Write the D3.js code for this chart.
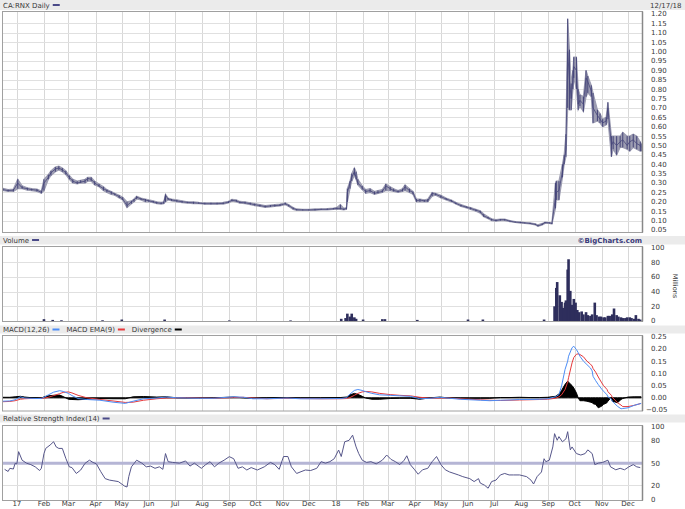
<!DOCTYPE html>
<html><head><meta charset="utf-8">
<script src="https://cdn.jsdelivr.net/npm/d3@7"></script>
<style>
body{margin:0;background:#fff}
svg{display:block}
text{font-family:"DejaVu Sans",Verdana,sans-serif;font-size:7px;fill:#383838}
</style>
</head><body>
<svg id="c" width="685" height="509"></svg>
<script>
// ---------- DATA (day = calendar days since 2016-12-15) ----------
const START = "2016-12-15", END = "2018-12-17";
const symbolLabel = "CA:RNX Daily";
const asOfLabel = "12/17/18";
const priceTicks = [0.05,0.10,0.15,0.20,0.25,0.30,0.35,0.40,0.45,0.50,0.55,0.60,0.65,0.70,0.75,0.80,0.85,0.90,0.95,1.00,1.05,1.10,1.15,1.20];
const volumeTicks = [0,20,40,60,80,100];
const macdTicks = [-0.05,0,0.05,0.10,0.15,0.20,0.25];
const rsiTicks = [0,20,50,80,100];

// [day, close, low, high]
const priceData = [
[1,.265,.26,.272],[7,.26,.255,.265],[13,.262,.255,.268],[18,.30,.27,.32],[23,.275,.27,.285],
[29,.27,.262,.275],[34,.265,.26,.27],[40,.262,.255,.268],[45,.25,.245,.258],[48,.30,.26,.32],
[53,.33,.32,.345],[56,.355,.34,.365],[61,.375,.36,.385],[65,.38,.37,.39],[69,.37,.36,.38],
[73,.355,.345,.365],[77,.33,.32,.34],[81,.31,.30,.32],[86,.30,.295,.31],[90,.305,.30,.315],
[95,.31,.30,.32],[98,.325,.31,.33],[102,.32,.31,.33],[106,.30,.29,.31],[111,.285,.28,.295],
[116,.27,.26,.28],[120,.26,.25,.265],[125,.25,.24,.255],[129,.24,.235,.245],[134,.228,.22,.235],
[138,.215,.21,.225],[143,.18,.17,.20],[148,.20,.19,.205],[151,.21,.20,.215],[154,.225,.215,.23],
[159,.215,.21,.22],[164,.21,.20,.215],[168,.205,.20,.21],[173,.20,.195,.205],[177,.195,.19,.20],
[182,.192,.188,.197],[185,.195,.19,.20],[187,.235,.20,.24],[190,.215,.21,.22],[194,.21,.205,.215],
[200,.205,.20,.21],[206,.20,.195,.205],[212,.197,.193,.20],[219,.195,.19,.20],[225,.193,.19,.197],
[232,.19,.187,.195],[239,.19,.187,.195],[246,.19,.187,.195],[253,.192,.188,.197],[259,.198,.194,.203],
[263,.208,.203,.213],[268,.205,.20,.21],[272,.197,.193,.202],[278,.195,.19,.20],[284,.19,.185,.195],
[289,.185,.18,.19],[295,.18,.175,.185],[301,.175,.17,.18],[307,.178,.173,.183],[312,.18,.175,.185],
[318,.182,.178,.188],[324,.19,.185,.195],[328,.18,.175,.185],[333,.165,.16,.17],[337,.158,.155,.162],
[344,.157,.154,.16],[351,.157,.154,.16],[358,.158,.155,.162],[365,.16,.157,.163],[372,.16,.157,.164],
[379,.163,.16,.167],[383,.165,.16,.17],[387,.165,.16,.185],[391,.16,.157,.165],[394,.165,.16,.17],
[395,.25,.20,.27],[398,.30,.27,.31],[400,.33,.31,.35],[403,.36,.34,.38],[405,.33,.32,.36],
[407,.30,.29,.32],[412,.275,.265,.285],[416,.255,.245,.265],[421,.26,.25,.27],[426,.245,.24,.255],
[430,.25,.245,.26],[435,.255,.25,.265],[439,.285,.26,.295],[444,.27,.26,.28],[448,.26,.255,.27],
[453,.255,.25,.26],[458,.26,.255,.27],[461,.28,.26,.29],[466,.26,.25,.27],[470,.25,.24,.255],
[474,.205,.20,.215],[478,.21,.20,.215],[483,.205,.20,.21],[487,.205,.20,.215],[492,.245,.23,.25],
[496,.24,.235,.245],[502,.228,.22,.235],[508,.215,.21,.22],[514,.205,.20,.21],[519,.192,.188,.197],
[525,.18,.175,.185],[531,.172,.168,.176],[536,.165,.16,.17],[542,.155,.15,.16],[547,.148,.14,.152],
[551,.125,.12,.135],[556,.115,.11,.12],[560,.105,.10,.11],[565,.10,.097,.105],[570,.105,.10,.108],
[575,.105,.10,.108],[581,.097,.094,.10],[587,.092,.09,.095],[593,.09,.087,.093],[598,.088,.085,.09],
[604,.085,.082,.088],[610,.08,.077,.083],[613,.072,.07,.077],[618,.08,.077,.085],[621,.09,.085,.092],
[626,.088,.085,.09],[629,.085,.082,.088],[633,.22,.165,.30],[634,.25,.21,.31],[637,.26,.21,.31],
[641,.36,.33,.40],[643,.42,.40,.45],[645,.48,.44,.56],[647,1.00,.70,1.175],[649,.85,.69,1.01],
[651,.75,.69,.83],[653,.85,.80,.90],[654,.92,.86,.97],[657,.90,.80,.97],[659,.72,.69,.80],
[661,.74,.71,.77],[665,.72,.68,.76],[668,.86,.76,.90],[670,.84,.78,.87],[674,.79,.76,.82],
[676,.70,.62,.78],[681,.66,.63,.69],[684,.64,.62,.67],[687,.62,.60,.64],[691,.63,.61,.65],
[693,.70,.64,.73],[697,.50,.44,.55],[699,.52,.48,.55],[703,.50,.45,.55],[707,.52,.49,.55],
[710,.53,.49,.57],[715,.50,.48,.55],[718,.52,.47,.55],[722,.53,.49,.56],[726,.51,.48,.55],
[730,.50,.47,.52],[731,.49,.47,.51]
];

// [day, volume in millions]
const volumeData = [
[48,2.5],[58,1.5],[68,1],[115,1],[137,2],[186,2],[260,0.8],[330,0.8],
[388,3],[393,4],[395,10],[398,6],[400,10],[403,5],[405,3],[413,2],[435,2.5],[438,2.5],[475,1.5],
[533,2],[550,2],[620,2],
[632,20],[634,45],[635,53],[638,35],[640,26],[642,18],[644,25],[645,28],[647,70],[648,84],
[650,41],[652,22],[654,30],[656,25],[658,15],[660,12],[663,13],[665,9],[668,12],[670,8],
[673,7],[675,9],[678,25],[680,8],[683,6],[685,6],[688,5],[690,5],[693,7],[695,7],[698,9],
[700,17],[703,8],[705,6],[708,5],[710,4],[713,4],[715,5],[718,5],[720,4],[723,3],[725,8],
[728,3],[730,2]
];

// [day, macd, signal, divergence]
const macdData = [
[1,-.014,-.016,.002],[9,-.013,-.015,.002],[15,-.008,-.012,.004],[21,.004,-.006,.006],
[26,-.001,-.004,.003],[32,-.002,-.003,.001],[40,-.003,-.003,0],[45,-.003,-.002,-.001],
[49,.004,-.001,.005],[53,.012,.002,.008],[59,.023,.009,.010],[66,.029,.017,.011],
[70,.026,.022,.005],[76,.018,.024,-.006],[80,.009,.020,-.007],[87,-.003,.010,-.008],
[97,-.007,0,-.006],[112,-.010,-.007,-.003],[127,-.018,-.013,-.004],[141,-.023,-.019,-.004],
[150,-.014,-.018,.004],[162,-.004,-.010,.005],[177,-.001,-.004,.003],[188,.003,-.001,.004],
[200,0,0,0],[211,-.001,0,-.001],[226,-.002,-.001,-.001],[242,-.002,-.002,0],
[265,.004,.001,.003],[276,.002,.002,0],[287,-.004,-.001,-.003],[303,-.004,-.004,0],
[326,-.001,-.002,.001],[341,-.004,-.003,-.001],[364,-.004,-.004,0],[387,-.003,-.004,.001],
[394,0,-.003,.003],[398,.015,.001,.012],[403,.030,.010,.018],[407,.034,.018,.014],
[412,.030,.024,.006],[416,.025,.026,-.001],[423,.018,.024,-.006],[432,.012,.018,-.006],
[444,.010,.013,-.003],[455,.008,.010,-.002],[467,.006,.008,-.002],[478,-.004,.002,-.006],
[490,-.002,-.002,0],[501,.002,-.001,.003],[512,-.002,-.001,-.001],[524,-.006,-.004,-.002],
[535,-.008,-.006,-.002],[547,-.010,-.008,-.002],[558,-.012,-.010,-.002],[570,-.010,-.011,.001],
[581,-.009,-.010,.001],[592,-.007,-.009,.002],[604,-.007,-.008,.001],[615,-.006,-.007,.001],
[624,-.004,-.006,.002],[633,.004,-.002,.006],[637,.013,.004,.015],[640,.048,.012,.030],
[644,.116,.034,.055],[647,.150,.065,.068],[648,.170,.082,.064],[652,.205,.143,.050],
[654,.211,.165,.040],[657,.197,.178,.020],[659,.185,.180,0],[661,.170,.177,-.012],
[665,.150,.168,-.012],[669,.136,.150,-.014],[673,.122,.138,-.018],[675,.110,.130,-.020],
[676,.088,.120,-.024],[679,.070,.105,-.027],[682,.054,.085,-.041],[686,.035,.061,-.034],
[688,.027,.050,-.027],[692,.012,.034,-.020],[693,.004,.025,-.014],[697,-.006,.010,.002],
[698,-.014,.002,-.014],[704,-.035,-.020,-.020],[708,-.045,-.030,-.007],[710,-.044,-.036,-.003],
[716,-.041,-.036,.003],[723,-.031,-.031,.004],[731,-.023,-.023,.004]
];

// [day, RSI(14)]
const rsiData = [
[3,41.6],[7,38.7],[9,43],[13,42],[15,49.8],[17,49],[19,65.6],[23,54],[28,50],[33,48],[38,45],
[43,40],[45,43],[48,63],[50,70],[55,74.6],[59,79],[62,72],[65,70],[69,70],[73,56.5],[77,45],
[80,44],[85,36],[90,40.7],[95,49.8],[100,54],[104,51],[108,49],[113,38.4],[118,29],[123,27],
[128,26],[133,25],[140,19],[143,17.6],[145,31.7],[148,45],[154,54],[160,50],[165,45],[170,46],
[175,43],[180,45],[184,41.6],[187,63],[190,52],[195,51],[203,50],[210,53],[215,46],[220,50],
[228,43],[233,48],[238,52],[243,45],[248,50],[254,54],[260,58.8],[265,56],[270,43],[275,45],
[280,40.7],[285,44],[292,40.7],[300,45],[307,51],[312,48],[317,41.6],[322,59],[327,59],[331,45],
[337,36],[342,38.4],[347,40.7],[353,40],[360,43],[365,52],[370,50],[375,52],[380,56],[385,67.8],
[388,59],[392,79],[397,81],[401,88],[405,72],[408,63],[412,54],[417,51],[422,52],[428,49],
[435,54],[440,61],[445,55],[450,52],[455,48],[460,54],[463,60],[467,48],[472,41],[476,35],
[481,41],[487,43],[492,52],[497,59],[502,48],[507,41],[512,38],[517,36],[522,34],[527,31.7],
[535,29],[540,25],[545,29],[547,23],[552,20],[556,16],[560,25],[565,27],[570,34],[575,36],
[580,34],[585,34],[592,34],[600,31.7],[605,27],[608,21.7],[612,31.7],[617,38],[620,56],[622,52],
[626,54],[630,72],[632,90],[635,81],[637,86],[641,79],[645,83],[647,92.7],[650,68],[652,72],
[657,63],[662,61],[667,63],[670,68],[675,63],[678,48],[682,50],[687,51],[693,54],[696,45],
[702,41],[707,43],[712,41],[717,45],[722,48],[726,45],[730,44]
];

// ---------- DRAWING ----------
const svg = d3.select("#c");
const W = 685;
const t0 = d3.utcParse("%Y-%m-%d")(START), t1 = d3.utcParse("%Y-%m-%d")(END);
const day = d => d3.utcDay.offset(t0, d);
const x = d3.scaleUtc().domain([t0, t1]).range([2, 642]);
const months = d3.utcMonth.range(d3.utcMonth.ceil(t0), t1);

const panels = {
  price: {top: 11.5, bottom: 232.5, y: d3.scaleLinear().domain([0.05, 1.20]).range([230, 14]), band:[0,10], label:7.5},
  vol:   {top: 246.5, bottom: 321.5, y: d3.scaleLinear().domain([0, 100]).range([321, 247.5]), band:[236,244.5], label:242.5},
  macd:  {top: 335.5, bottom: 411, y: d3.scaleLinear().domain([-0.05, 0.25]).range([410, 336.7]), band:[325.5,333.5], label:331.5},
  rsi:   {top: 425.5, bottom: 500.5, y: d3.scaleLinear().domain([0, 100]).range([500, 426.3]), band:[414.5,422.5], label:420.5}
};

Object.values(panels).forEach(p => {
  svg.append("rect").attr("x",0).attr("y",p.band[0]).attr("width",W).attr("height",p.band[1]-p.band[0]).attr("fill","#ebebeb");
});

function grid(p, ticks) {
  const g = svg.append("g");
  g.selectAll("line.v").data(months).join("line")
    .attr("x1", d => Math.round(x(d))+0.5).attr("x2", d => Math.round(x(d))+0.5)
    .attr("y1", p.top).attr("y2", p.bottom).attr("stroke","#d8d8d8").attr("stroke-width",1);
  g.selectAll("line.h").data(ticks).join("line")
    .attr("x1", 2).attr("x2", 642).attr("y1", d => Math.round(p.y(d))+0.5).attr("y2", d => Math.round(p.y(d))+0.5)
    .attr("stroke","#e0e0e0").attr("stroke-width",1);
}
function frame(p) {
  svg.append("rect").attr("x",2.5).attr("y",p.top).attr("width",640).attr("height",p.bottom-p.top)
    .attr("fill","none").attr("stroke","#a0a0a0").attr("stroke-width",1);
  svg.append("line").attr("x1",642.5).attr("x2",642.5).attr("y1",p.top).attr("y2",p.bottom).attr("stroke","#888").attr("stroke-width",1.5);
}
function yLabels(p, ticks, fmt) {
  svg.append("g").selectAll("text").data(ticks).join("text")
    .attr("x", d => d < 0 ? 646 : 651).attr("y", d => p.y(d)).attr("dy","0.35em")
    .text(fmt);
}
function legend(items, y, ty) {
  let cx = 3;
  items.forEach(([t, c]) => {
    const tt = svg.append("text").attr("x", cx).attr("y", ty).text(t);
    const w = tt.node().getComputedTextLength();
    svg.append("line").attr("x1", cx + w + 3).attr("x2", cx + w + 10).attr("y1", y).attr("y2", y)
      .attr("stroke", c).attr("stroke-width", 2);
    cx = cx + w + 17;
  });
}

// ----- price panel -----
const P = panels.price;
grid(P, priceTicks.filter(t => t > 0.051 && t < 1.199));
const band = d3.area().x(d => x(day(d[0]))).y0(d => P.y(d[2])).y1(d => P.y(d[3]));
svg.append("path").datum(priceData).attr("d", band).attr("fill","#9d9db2").attr("stroke","#9d9db2").attr("stroke-width",1.2);
svg.append("g").selectAll("line").data(priceData).join("line")
  .attr("x1", d => x(day(d[0]))).attr("x2", d => x(day(d[0])))
  .attr("y1", d => P.y(d[2])).attr("y2", d => P.y(d[3]))
  .attr("stroke","#3a3a72").attr("stroke-width",0.9);
svg.append("path").datum(priceData).attr("d", d3.line().x(d => x(day(d[0]))).y(d => P.y(d[1])))
  .attr("fill","none").attr("stroke","#45457a").attr("stroke-width",0.8);
frame(P);
yLabels(P, priceTicks, d => d.toFixed(2));
legend([[symbolLabel, "#4a4a88"]], 5, P.label);
svg.append("text").attr("x",650).attr("y",P.label).text(asOfLabel);

// ----- volume panel -----
const V = panels.vol;
grid(V, volumeTicks.filter(t => t > 0 && t < 100));
svg.append("g").selectAll("rect").data(volumeData).join("rect")
  .attr("x", d => x(day(d[0])) - 1.3).attr("width", 2.6)
  .attr("y", d => V.y(d[1])).attr("height", d => V.y(0) - V.y(d[1]))
  .attr("fill","#2e2e5c");
frame(V);
yLabels(V, volumeTicks, d => d);
legend([["Volume", "#4a4a88"]], 240, V.label);
svg.append("text").attr("x",642).attr("y",V.label).attr("text-anchor","end")
  .style("font-weight","bold").style("fill","#3a3a7a").text("©BigCharts.com");
svg.append("text").attr("transform","translate(673,286) rotate(90)").attr("text-anchor","middle")
  .style("font-size","6.5px").text("Millions");

// ----- MACD panel -----
const M = panels.macd;
grid(M, macdTicks.filter(t => t > -0.049 && t < 0.249));
svg.append("path").datum(macdData)
  .attr("d", d3.area().x(d => x(day(d[0]))).y0(M.y(0)).y1(d => M.y(d[3])))
  .attr("fill","#000").attr("stroke","#000").attr("stroke-width",1);
svg.append("path").datum(macdData).attr("d", d3.line().x(d => x(day(d[0]))).y(d => M.y(d[2])))
  .attr("fill","none").attr("stroke","#e6393c").attr("stroke-width",1);
svg.append("path").datum(macdData).attr("d", d3.line().x(d => x(day(d[0]))).y(d => M.y(d[1])))
  .attr("fill","none").attr("stroke","#4c8df6").attr("stroke-width",1);
frame(M);
yLabels(M, macdTicks, d => (d < 0 ? "\u2212" : "") + Math.abs(d).toFixed(2));
legend([["MACD(12,26)", "#4c8df6"], ["MACD EMA(9)", "#e6393c"], ["Divergence", "#000"]], 329.5, M.label);

// ----- RSI panel -----
const R = panels.rsi;
grid(R, [20,80]);
svg.append("line").attr("x1",2).attr("x2",642).attr("y1",R.y(50)).attr("y2",R.y(50))
  .attr("stroke","#b5b5d5").attr("stroke-width",3);
svg.append("path").datum(rsiData).attr("d", d3.line().x(d => x(day(d[0]))).y(d => R.y(d[1])))
  .attr("fill","none").attr("stroke","#56568a").attr("stroke-width",1);
frame(R);
yLabels(R, rsiTicks, d => d);
legend([["Relative Strength Index(14)", "#4a4a88"]], 418.5, R.label);

// ----- x axis labels -----
const fmt = d => d.getUTCMonth() === 0 ? d3.utcFormat("%y")(d) : d3.utcFormat("%b")(d);
svg.append("g").selectAll("text").data(months).join("text")
  .attr("x", d => x(d)).attr("y", 506).attr("text-anchor","middle").text(fmt);
</script>
</body></html>
